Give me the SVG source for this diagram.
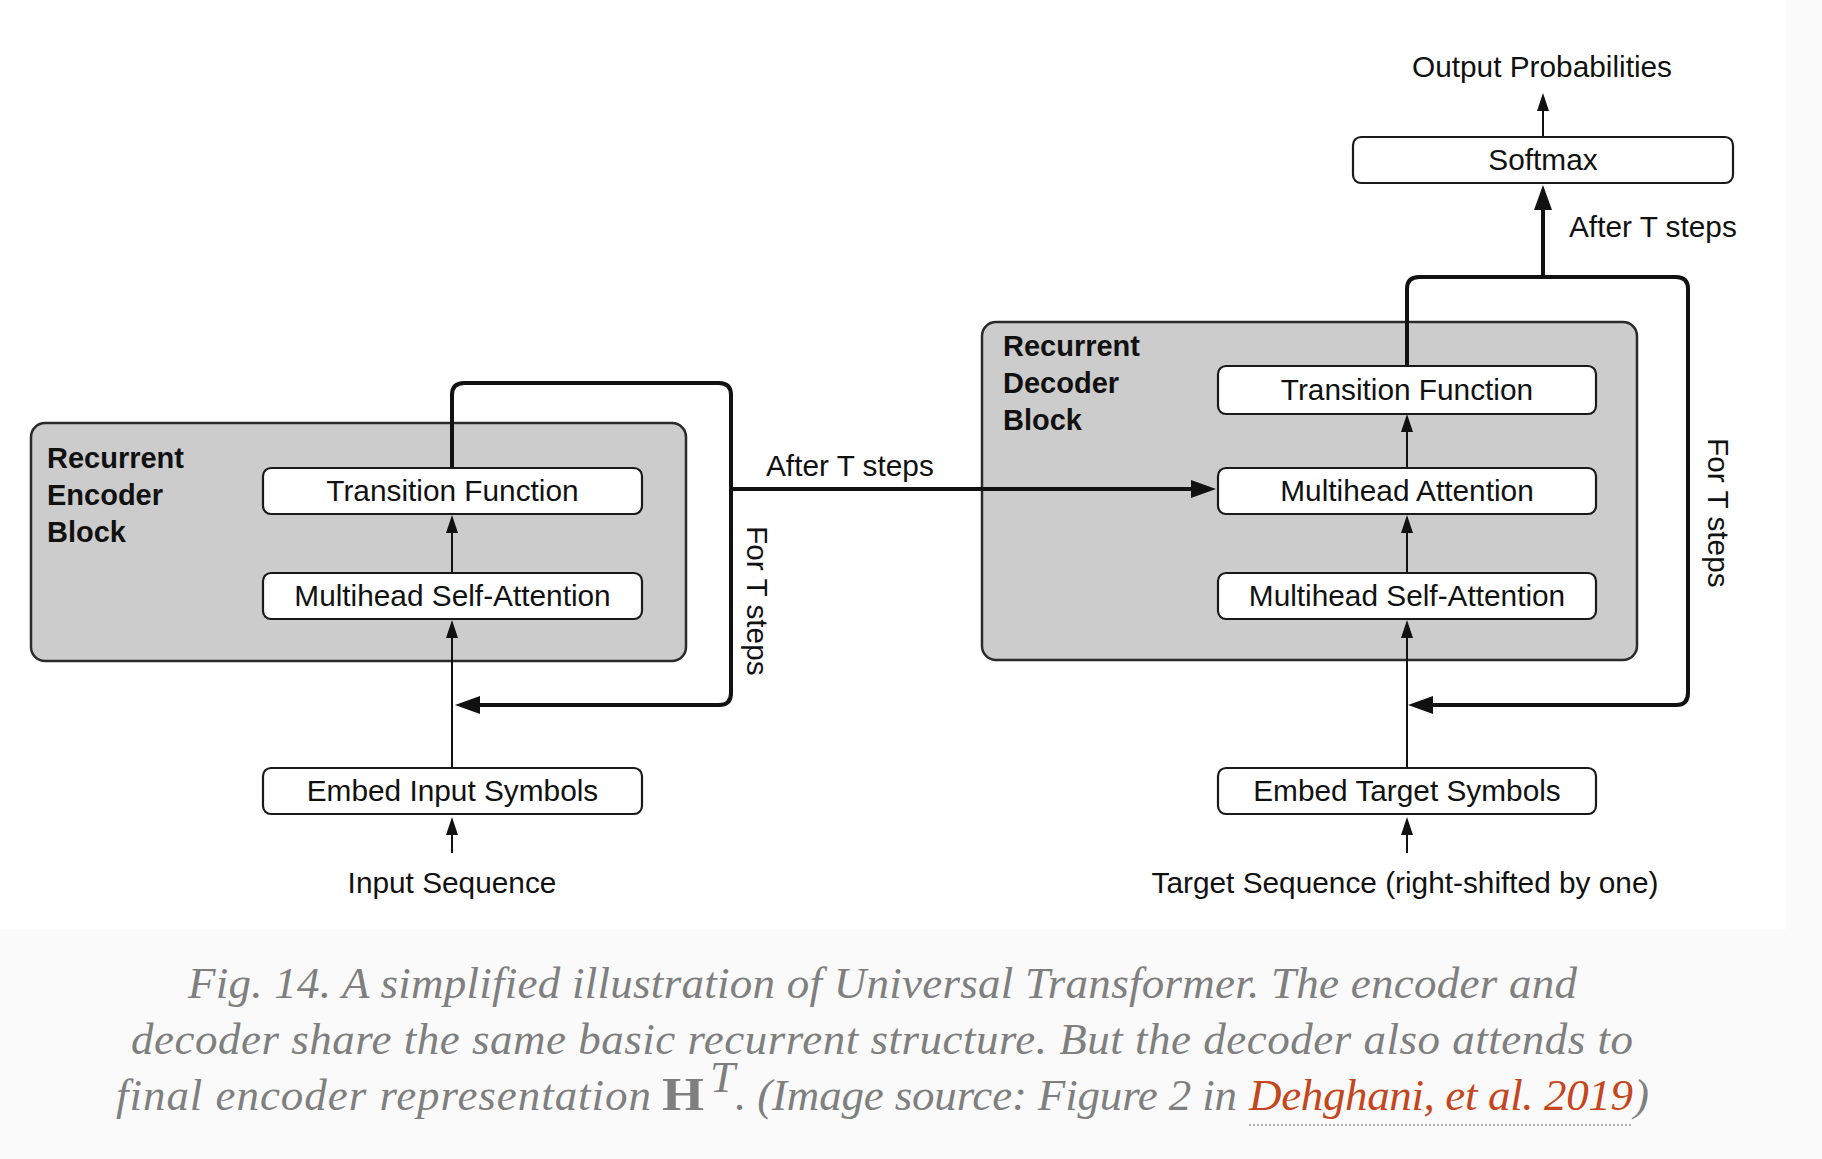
<svg xmlns="http://www.w3.org/2000/svg" width="1822" height="1159" viewBox="0 0 1822 1159">
<style>
.lbl{font-family:"Liberation Sans",Arial,Helvetica,sans-serif;font-size:29.8px;fill:#111;}
.ctr{text-anchor:middle;}
.bold{font-weight:bold;font-size:29px;}
.blk{fill:#cccccc;stroke:#2a2a2a;stroke-width:2.5;}
.box{fill:#ffffff;stroke:#1a1a1a;stroke-width:2.2;}
.thin{fill:none;stroke:#111;stroke-width:2;marker-end:url(#ah);}
.thickA{fill:none;stroke:#111;stroke-width:4;stroke-linejoin:round;marker-end:url(#ahb);}
.cap{font-family:"Liberation Serif","Times New Roman",serif;font-style:italic;font-size:45px;fill:#7f7f7f;}
.link{fill:#c4461c;}
</style>
<defs>
<marker id="ah" markerUnits="userSpaceOnUse" markerWidth="18" markerHeight="12" refX="10" refY="6" orient="auto"><path d="M0,0 L18,6 L0,12 z" fill="#111"/></marker>
<marker id="ahb" markerUnits="userSpaceOnUse" markerWidth="25" markerHeight="18" refX="13" refY="9" orient="auto"><path d="M0,0 L25,9 L0,18 z" fill="#111"/></marker>
</defs>
<rect x="0" y="0" width="1822" height="1159" fill="#fafafa"/>
<rect x="0" y="0" width="1786" height="929" fill="#ffffff"/>

<g id="encoder-block">
<rect class="blk" x="31" y="423" width="655" height="238" rx="14"/>
<text class="lbl bold" x="47" y="468">Recurrent</text>
<text class="lbl bold" x="47" y="505">Encoder</text>
<text class="lbl bold" x="47" y="542">Block</text>
</g>
<g id="decoder-block">
<rect class="blk" x="982" y="322" width="655" height="338" rx="14"/>
<text class="lbl bold" x="1003" y="356">Recurrent</text>
<text class="lbl bold" x="1003" y="393">Decoder</text>
<text class="lbl bold" x="1003" y="430">Block</text>
</g>

<g id="connectors">
<path class="thin" d="M452,853 L452,825"/>
<path class="thin" d="M452,768 L452,628"/>
<path class="thin" d="M452,573 L452,523"/>
<path class="thickA" d="M452,468 L452,395 Q452,383 464,383 L719,383 Q731,383 731,395 L731,693 Q731,705 719,705 L467,705"/>
<path class="thickA" d="M731,489 L1204,489"/>
<path class="thin" d="M1407,853 L1407,825"/>
<path class="thin" d="M1407,768 L1407,628"/>
<path class="thin" d="M1407,573 L1407,523"/>
<path class="thin" d="M1407,468 L1407,422"/>
<path class="thickA" d="M1407,366 L1407,289 Q1407,277 1419,277 L1676,277 Q1688,277 1688,289 L1688,693 Q1688,705 1676,705 L1420,705"/>
<path class="thickA" d="M1543,277 L1543,197"/>
<path class="thin" d="M1543,137 L1543,101"/>
</g>

<g id="enc-transition">
<rect class="box" x="263" y="468" width="379" height="46" rx="8"/>
<text class="lbl ctr" x="452.5" y="501">Transition Function</text>
</g>
<g id="enc-selfattn">
<rect class="box" x="263" y="573" width="379" height="46" rx="8"/>
<text class="lbl ctr" x="452.5" y="606">Multihead Self-Attention</text>
</g>
<g id="enc-embed">
<rect class="box" x="263" y="768" width="379" height="46" rx="8"/>
<text class="lbl ctr" x="452.5" y="801">Embed Input Symbols</text>
</g>
<g id="input-seq">
<text class="lbl ctr" x="452" y="893">Input Sequence</text>
</g>

<g id="dec-transition">
<rect class="box" x="1218" y="366" width="378" height="48" rx="8"/>
<text class="lbl ctr" x="1407" y="400">Transition Function</text>
</g>
<g id="dec-attn">
<rect class="box" x="1218" y="468" width="378" height="46" rx="8"/>
<text class="lbl ctr" x="1407" y="501">Multihead Attention</text>
</g>
<g id="dec-selfattn">
<rect class="box" x="1218" y="573" width="378" height="46" rx="8"/>
<text class="lbl ctr" x="1407" y="606">Multihead Self-Attention</text>
</g>
<g id="dec-embed">
<rect class="box" x="1218" y="768" width="378" height="46" rx="8"/>
<text class="lbl ctr" x="1407" y="801">Embed Target Symbols</text>
</g>
<g id="target-seq">
<text class="lbl ctr" x="1405" y="893">Target Sequence (right-shifted by one)</text>
</g>
<g id="softmax">
<rect class="box" x="1353" y="137" width="380" height="46" rx="8"/>
<text class="lbl ctr" x="1543" y="170">Softmax</text>
</g>
<g id="output-prob">
<text class="lbl ctr" x="1542" y="77">Output Probabilities</text>
</g>

<g id="labels">
<text class="lbl" x="766" y="476">After T steps</text>
<text class="lbl" x="1569" y="237">After T steps</text>
<text class="lbl" transform="translate(747,526) rotate(90)">For T steps</text>
<text class="lbl" transform="translate(1708,438) rotate(90)">For T steps</text>
</g>

<g id="caption">
<text class="cap" x="188" y="998" textLength="1389">Fig. 14. A simplified illustration of Universal Transformer. The encoder and</text>
<text class="cap" x="131" y="1054" textLength="1502">decoder share the same basic recurrent structure. But the decoder also attends to</text>
<text class="cap" x="116" y="1110" textLength="535">final encoder representation</text>
<text x="662" y="1110" font-family="Liberation Serif,serif" font-weight="bold" font-size="46" fill="#7f7f7f" textLength="42" lengthAdjust="spacingAndGlyphs">H</text>
<text class="cap" x="710" y="1092" font-size="28">T</text>
<text class="cap" x="735" y="1110" textLength="502">. (Image source: Figure 2 in</text>
<text class="cap link" x="1249" y="1110" textLength="384">Dehghani, et al. 2019</text>
<text class="cap" x="1634" y="1110">)</text>
<line x1="1249" y1="1125" x2="1633" y2="1125" stroke="#b0b0b0" stroke-width="2" stroke-dasharray="2,2"/>
</g>
</svg>
